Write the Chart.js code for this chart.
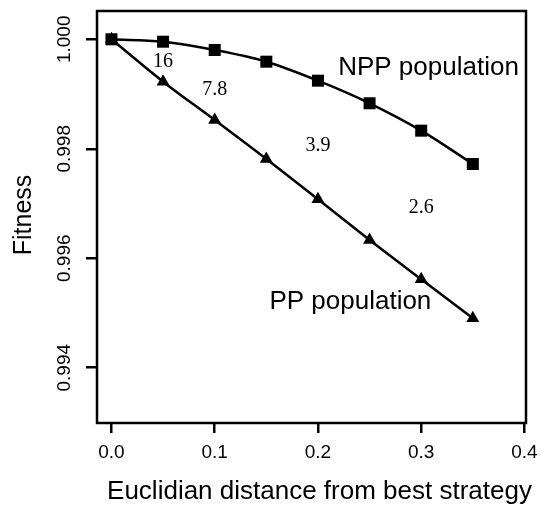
<!DOCTYPE html>
<html>
<head>
<meta charset="utf-8">
<script src="https://cdn.jsdelivr.net/npm/chart.js@4.4.1/dist/chart.umd.min.js"></script>
<style>
html,body{margin:0;padding:0;background:#fff;}
#c{display:block;}
</style>
</head>
<body>
<canvas id="c" width="541" height="508"></canvas>
<script>
// ---- data ----
const distances = [0, 0.05, 0.10, 0.15, 0.20, 0.25, 0.30, 0.35];
const nppFitness = [1.00000, 0.999956, 0.999805, 0.999591, 0.999244, 0.998831, 0.998331, 0.997722];
const ppFitness  = [1.00000, 0.999226, 0.998526, 0.997814, 0.997078, 0.996334, 0.995616, 0.994904];
const xTickValues = [0.0, 0.1, 0.2, 0.3, 0.4];
const xTickLabels = ["0.0", "0.1", "0.2", "0.3", "0.4"];
const yTickValues = [0.994, 0.996, 0.998, 1.000];
const yTickLabels = ["0.994", "0.996", "0.998", "1.000"];
const ratioLabels = ["16", "7.8", "3.9", "2.6"];
const ratioX = [0.05, 0.10, 0.20, 0.30];
const ratioY = [0.999591, 0.999083, 0.998060, 0.996920];
const seriesNames = ["NPP population", "PP population"];
const seriesLabelX = [0.2196, 0.153];
const seriesLabelY = [0.999476, 0.995202];
const xTitle = "Euclidian distance from best strategy";
const yTitle = "Fitness";

const SANS = '"Liberation Sans", Arial, Helvetica, sans-serif';
const SERIF = '"Liberation Serif", "Times New Roman", serif';

const toXY = (xs, ys) => xs.map((x, i) => ({x: x, y: ys[i]}));

const decor = {
  id: 'decor',
  afterDraw(chart) {
    const ctx = chart.ctx;
    const a = chart.chartArea;
    const xs = chart.scales.x, ys = chart.scales.y;
    ctx.save();
    // box
    ctx.strokeStyle = '#000';
    ctx.lineWidth = 2.5;
    ctx.strokeRect(a.left, a.top, a.right - a.left, a.bottom - a.top);
    // x tick labels
    ctx.fillStyle = '#000';
    ctx.font = '19px ' + SANS;
    ctx.textAlign = 'center';
    ctx.textBaseline = 'middle';
    xTickValues.forEach((v, i) => {
      ctx.fillText(xTickLabels[i], xs.getPixelForValue(v), 453);
    });
    // y tick labels rotated
    yTickValues.forEach((v, i) => {
      ctx.save();
      ctx.translate(65, ys.getPixelForValue(v));
      ctx.rotate(-Math.PI / 2);
      ctx.fillText(yTickLabels[i], 0, 0);
      ctx.restore();
    });
    // axis titles
    ctx.font = '26px ' + SANS;
    ctx.textBaseline = 'alphabetic';
    ctx.fillText(xTitle, (a.left + a.right) / 2 + 8, 499);
    ctx.save();
    ctx.translate(31, (a.top + a.bottom) / 2 - 2);
    ctx.rotate(-Math.PI / 2);
    ctx.font = '25px ' + SANS;
    ctx.fillText(yTitle, 0, 0);
    ctx.restore();
    // series labels
    ctx.font = '26px ' + SANS;
    ctx.textAlign = 'left';
    ctx.textBaseline = 'middle';
    seriesNames.forEach((s, i) => {
      ctx.fillText(s, xs.getPixelForValue(seriesLabelX[i]), ys.getPixelForValue(seriesLabelY[i]));
    });
    // ratio labels
    ctx.font = '20px ' + SERIF;
    ctx.textAlign = 'center';
    ratioLabels.forEach((s, i) => {
      ctx.fillText(s, xs.getPixelForValue(ratioX[i]), ys.getPixelForValue(ratioY[i]));
    });
    ctx.restore();
  }
};

new Chart(document.getElementById('c'), {
  type: 'line',
  data: {
    datasets: [
      {
        label: seriesNames[0],
        data: toXY(distances, nppFitness),
        borderColor: '#000',
        backgroundColor: '#000',
        borderWidth: 2.5,
        pointStyle: 'rect',
        pointRadius: 8.5,
        pointBorderWidth: 0,
        cubicInterpolationMode: 'monotone',
        fill: false
      },
      {
        label: seriesNames[1],
        data: toXY(distances, ppFitness),
        borderColor: '#000',
        backgroundColor: '#000',
        borderWidth: 2.5,
        pointStyle: 'triangle',
        pointRadius: 7.5,
        pointBorderWidth: 0,
        cubicInterpolationMode: 'monotone',
        fill: false
      }
    ]
  },
  options: {
    responsive: false,
    animation: false,
    devicePixelRatio: 1,
    layout: { padding: { left: 0, top: 11, right: 15, bottom: 0 } },
    plugins: { legend: { display: false }, tooltip: { enabled: false } },
    scales: {
      x: {
        type: 'linear',
        min: -0.014,
        max: 0.4015,
        afterBuildTicks: (s) => { s.ticks = xTickValues.map(v => ({value: v})); },
        afterFit: (s) => { s.height = 85; },
        ticks: { display: false },
        border: { display: false },
        grid: { drawOnChartArea: false, drawTicks: true, tickLength: 10, color: '#000', lineWidth: 2.5 }
      },
      y: {
        type: 'linear',
        min: 0.99299,
        max: 1.000517,
        afterBuildTicks: (s) => { s.ticks = yTickValues.map(v => ({value: v})); },
        afterFit: (s) => { s.width = 97; },
        ticks: { display: false },
        border: { display: false },
        grid: { drawOnChartArea: false, drawTicks: true, tickLength: 11, color: '#000', lineWidth: 2.5 }
      }
    }
  },
  plugins: [decor]
});
</script>
</body>
</html>
